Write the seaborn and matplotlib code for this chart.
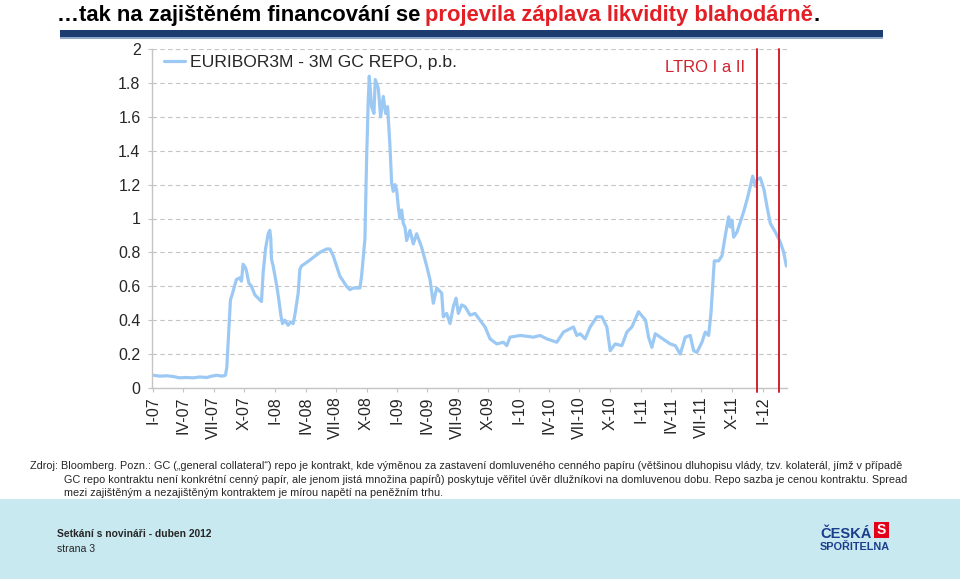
import pandas as pd
import matplotlib
matplotlib.use("Agg")
import matplotlib.pyplot as plt
import matplotlib.ticker as ticker
import matplotlib.patches as patches
import seaborn as sns

# -------------------------------
# Data
# -------------------------------
dates = [
    "2007-01-02", "2007-01-20", "2007-02-10", "2007-03-01", "2007-03-20", "2007-04-10",
    "2007-05-01", "2007-05-20", "2007-06-10", "2007-06-25", "2007-07-10", "2007-07-25",
    "2007-08-05", "2007-08-09", "2007-08-14", "2007-08-20", "2007-08-25", "2007-09-01",
    "2007-09-07", "2007-09-17", "2007-09-22", "2007-09-27", "2007-10-04", "2007-10-07",
    "2007-10-14", "2007-10-22", "2007-11-01", "2007-11-11", "2007-11-21", "2007-11-26",
    "2007-12-03", "2007-12-11", "2007-12-16", "2007-12-19", "2007-12-21", "2007-12-26",
    "2008-01-06", "2008-01-12", "2008-01-18", "2008-01-23", "2008-01-30", "2008-02-09",
    "2008-02-16", "2008-02-24", "2008-02-29", "2008-03-10", "2008-03-15", "2008-03-20",
    "2008-04-04", "2008-04-24", "2008-05-14", "2008-06-03", "2008-06-13", "2008-06-23",
    "2008-07-03", "2008-07-13", "2008-08-02", "2008-08-12", "2008-08-22", "2008-09-11",
    "2008-09-16", "2008-09-26", "2008-10-01", "2008-10-06", "2008-10-09", "2008-10-16",
    "2008-10-23", "2008-10-27", "2008-11-05", "2008-11-12", "2008-11-20", "2008-11-27",
    "2008-12-03", "2008-12-10", "2008-12-15", "2008-12-20", "2008-12-25", "2008-12-30",
    "2009-01-05", "2009-01-09", "2009-01-14", "2009-01-19", "2009-01-24", "2009-01-29",
    "2009-02-08", "2009-02-18", "2009-02-28", "2009-03-15", "2009-03-30", "2009-04-09",
    "2009-04-19", "2009-04-29", "2009-05-14", "2009-05-19", "2009-05-29", "2009-06-08",
    "2009-06-18", "2009-06-26", "2009-07-03", "2009-07-13", "2009-07-23", "2009-08-07",
    "2009-08-22", "2009-09-06", "2009-09-21", "2009-10-06", "2009-10-26", "2009-11-15",
    "2009-11-25", "2009-12-05", "2010-01-05", "2010-02-13", "2010-03-05", "2010-03-25",
    "2010-04-24", "2010-05-14", "2010-06-13", "2010-06-23", "2010-07-03", "2010-07-18",
    "2010-08-02", "2010-08-22", "2010-09-06", "2010-09-21", "2010-10-01", "2010-10-16",
    "2010-11-05", "2010-11-20", "2010-12-05", "2010-12-25", "2011-01-15", "2011-01-24",
    "2011-02-03", "2011-02-13", "2011-02-28", "2011-03-15", "2011-03-30", "2011-04-14",
    "2011-04-29", "2011-05-14", "2011-05-29", "2011-06-08", "2011-06-18", "2011-07-03",
    "2011-07-13", "2011-07-23", "2011-07-30", "2011-08-04", "2011-08-09", "2011-08-22",
    "2011-09-01", "2011-09-11", "2011-09-21", "2011-09-26", "2011-10-01", "2011-10-06",
    "2011-10-16", "2011-10-26", "2011-11-05", "2011-11-15", "2011-11-25", "2011-12-02",
    "2011-12-10", "2011-12-15", "2011-12-25", "2012-01-05", "2012-01-14", "2012-01-24",
    "2012-02-08", "2012-02-23", "2012-03-04", "2012-03-12",
]
spread = [
    0.075, 0.07, 0.072, 0.068, 0.06, 0.062,
    0.06, 0.065, 0.062, 0.07, 0.075, 0.07,
    0.075, 0.12, 0.30, 0.52, 0.55, 0.60,
    0.64, 0.65, 0.63, 0.73, 0.71, 0.69,
    0.62, 0.60, 0.55, 0.53, 0.51, 0.68,
    0.82, 0.91, 0.93, 0.88, 0.76, 0.72,
    0.60, 0.52, 0.43, 0.38, 0.40, 0.37,
    0.39, 0.38, 0.43, 0.56, 0.70, 0.72,
    0.74, 0.77, 0.80, 0.82, 0.82, 0.78,
    0.72, 0.66, 0.60, 0.58, 0.59, 0.59,
    0.66, 0.88, 1.35, 1.70, 1.84, 1.66,
    1.62, 1.82, 1.77, 1.60, 1.72, 1.62,
    1.66, 1.43, 1.21, 1.16, 1.20, 1.17,
    1.05, 1.00, 1.05, 0.97, 0.95, 0.87,
    0.93, 0.85, 0.91, 0.83, 0.72, 0.64,
    0.50, 0.59, 0.56, 0.42, 0.44, 0.38,
    0.48, 0.53, 0.44, 0.49, 0.48, 0.43,
    0.44, 0.40, 0.36, 0.29, 0.26, 0.27,
    0.25, 0.30, 0.31, 0.30, 0.31, 0.29,
    0.27, 0.33, 0.36, 0.31, 0.32, 0.29,
    0.36, 0.42, 0.42, 0.36, 0.22, 0.26,
    0.25, 0.33, 0.36, 0.45, 0.40, 0.30,
    0.24, 0.32, 0.30, 0.28, 0.26, 0.25,
    0.20, 0.30, 0.31, 0.22, 0.21, 0.27,
    0.33, 0.31, 0.44, 0.60, 0.75, 0.75,
    0.78, 0.90, 1.01, 0.95, 0.99, 0.89,
    0.92, 0.98, 1.04, 1.11, 1.19, 1.25,
    1.19, 1.23, 1.24, 1.17, 1.07, 0.97,
    0.92, 0.86, 0.80, 0.72,
]
series_label = "EURIBOR3M - 3M GC REPO, p.b."

tick_dates = pd.date_range("2007-01-01", "2012-01-01", freq="QS")
tick_labels = [f"{m}-{y:02d}" for y in range(7, 12) for m in ["I", "IV", "VII", "X"]] + ["I-12"]
y_ticks = [0, 0.2, 0.4, 0.6, 0.8, 1.0, 1.2, 1.4, 1.6, 1.8, 2.0]

ltro_dates = ["2011-12-15", "2012-02-18"]
ltro_label = "LTRO I a II"

title_black = "…tak na zajištěném financování se"
title_red = "projevila záplava likvidity blahodárně"
note_lines = [
    "Zdroj: Bloomberg. Pozn.: GC („general collateral“) repo je kontrakt, kde výměnou za zastavení domluveného cenného papíru (většinou dluhopisu vlády, tzv. kolaterál, jímž v případě",
    "GC repo kontraktu není konkrétní cenný papír, ale jenom jistá množina papírů) poskytuje věřitel úvěr dlužníkovi na domluvenou dobu. Repo sazba je cenou kontraktu. Spread",
    "mezi zajištěným a nezajištěným kontraktem je mírou napětí na peněžním trhu.",
]
footer_bold = "Setkání s novináři - duben 2012"
footer_page = "strana 3"

# -------------------------------
# Style
# -------------------------------
sns.set_style("white")
plt.rcParams["font.family"] = ["Liberation Sans", "DejaVu Sans"]

line_color = "#9cc9f4"
red = "#d3202b"
grid_color = "#c4c4c4"

W, H = 960, 579
fig = plt.figure(figsize=(W / 100, H / 100), dpi=100)
fig.patch.set_facecolor("white")

def fx(px):
    return px / W

def fy(py):
    return 1 - py / H

ax = fig.add_axes([fx(151.7), fy(388), fx(786.7) - fx(151.7), fy(49) - fy(388)])

df = pd.DataFrame({"date": pd.to_datetime(dates), "spread": spread})
sns.lineplot(data=df, x="date", y="spread", ax=ax, color=line_color, lw=2.3,
             label=series_label)

for d in ltro_dates:
    ax.axvline(pd.Timestamp(d), ymin=-0.012, ymax=1, color=red, lw=1.4, clip_on=False, zorder=3)

ax.set_xlim(pd.Timestamp("2006-12-27"), pd.Timestamp("2012-03-13"))
ax.set_ylim(0, 2)
ax.set_xticks(tick_dates)
ax.set_xticklabels(tick_labels, rotation=90, fontsize=11.5)
ax.set_yticks(y_ticks)
ax.yaxis.set_major_formatter(ticker.FuncFormatter(lambda v, p: f"{v:g}"))
ax.tick_params(axis="y", labelsize=11.5, length=3, color=grid_color, pad=5, left=True)
ax.tick_params(axis="x", length=3, color=grid_color, pad=3, bottom=True)
ax.set_xlabel("")
ax.set_ylabel("")

ax.yaxis.grid(True, linestyle=(0, (4, 3)), color=grid_color, lw=0.8)
ax.xaxis.grid(False)
for side in ["top", "right"]:
    ax.spines[side].set_visible(False)
for side in ["left", "bottom"]:
    ax.spines[side].set_color(grid_color)
    ax.spines[side].set_linewidth(1)

ax.legend(loc="upper left", bbox_to_anchor=(0.02, 0.982), frameon=False, fontsize=12.6,
          handlelength=1.2, handletextpad=0.25, borderaxespad=0, borderpad=0)

ax.text(fx(745), fy(68), ltro_label, transform=fig.transFigure, ha="right", va="center",
        color=red, fontsize=12)

# -------------------------------
# Slide decorations
# -------------------------------
renderer = fig.canvas.get_renderer()
t1 = fig.text(fx(57), fy(21), title_black, fontsize=15.8, fontweight="bold",
              color="black", va="baseline")
bb = t1.get_window_extent(renderer)
t2 = fig.text((bb.x1 + 5) / W, fy(21), title_red, fontsize=15.8, fontweight="bold",
              color="#e31e24", va="baseline")
bb = t2.get_window_extent(renderer)
fig.text(bb.x1 / W, fy(21), ".", fontsize=15.8, fontweight="bold",
         color="black", va="baseline")

fig.add_artist(patches.Rectangle((fx(60), fy(37)), fx(883) - fx(60), fy(30) - fy(37),
                                 transform=fig.transFigure, color="#1d3c70", lw=0))
fig.add_artist(patches.Rectangle((fx(60), fy(38.5)), fx(883) - fx(60), fy(37) - fy(38.5),
                                 transform=fig.transFigure, color="#8fa8cc", lw=0))

fig.text(fx(30), fy(469), note_lines[0], fontsize=7.85, va="baseline")
fig.text(fx(64), fy(483), note_lines[1], fontsize=7.85, va="baseline")
fig.text(fx(64), fy(496), note_lines[2], fontsize=7.85, va="baseline")

fig.add_artist(patches.Rectangle((0, 0), 1, fy(499), transform=fig.transFigure,
                                 color="#c9e9f1", lw=0, zorder=-1))
fig.text(fx(57), fy(537), footer_bold, fontsize=7.4, fontweight="bold", va="baseline")
fig.text(fx(57), fy(552), footer_page, fontsize=7.6, va="baseline")

navy = "#1b3e8c"
fig.text(fx(820), fy(538), "ČESKÁ", fontsize=10.5, fontweight="bold",
         color=navy, va="baseline")
fig.add_artist(patches.Rectangle((fx(874), fy(538)), fx(889) - fx(874), fy(522) - fy(538),
                                 transform=fig.transFigure, color="#e2001a", lw=0))
fig.text(fx(881.5), fy(530), "S", fontsize=10, fontweight="bold", color="white",
         ha="center", va="center")
fig.text(fx(820), fy(550), "SPOŘITELNA", fontsize=7.8, fontweight="bold",
         color=navy, va="baseline")

fig.savefig("out.png", dpi=100)
